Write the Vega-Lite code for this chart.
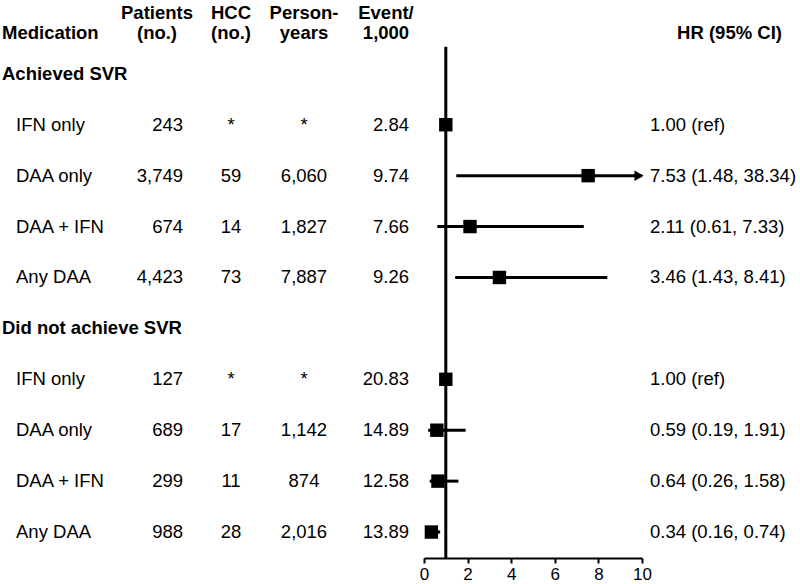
{
  "$schema": "https://vega.github.io/schema/vega-lite/v6.json",
  "padding": 0,
  "background": "white",
  "bounds": "flush",
  "spacing": 0,
  "datasets": {
    "rows": [
      {"row": 2, "med": "IFN only", "patients": 243, "hcc": "*", "py": "*", "event": 2.84, "hr": 1.0, "lower": null, "upper": null, "hrText": "1.00 (ref)"},
      {"row": 3, "med": "DAA only", "patients": 3749, "hcc": "59", "py": "6,060", "event": 9.74, "hr": 7.53, "lower": 1.48, "upper": 38.34, "hrText": "7.53 (1.48, 38.34)"},
      {"row": 4, "med": "DAA + IFN", "patients": 674, "hcc": "14", "py": "1,827", "event": 7.66, "hr": 2.11, "lower": 0.61, "upper": 7.33, "hrText": "2.11 (0.61, 7.33)"},
      {"row": 5, "med": "Any DAA", "patients": 4423, "hcc": "73", "py": "7,887", "event": 9.26, "hr": 3.46, "lower": 1.43, "upper": 8.41, "hrText": "3.46 (1.43, 8.41)"},
      {"row": 7, "med": "IFN only", "patients": 127, "hcc": "*", "py": "*", "event": 20.83, "hr": 1.0, "lower": null, "upper": null, "hrText": "1.00 (ref)"},
      {"row": 8, "med": "DAA only", "patients": 689, "hcc": "17", "py": "1,142", "event": 14.89, "hr": 0.59, "lower": 0.19, "upper": 1.91, "hrText": "0.59 (0.19, 1.91)"},
      {"row": 9, "med": "DAA + IFN", "patients": 299, "hcc": "11", "py": "874", "event": 12.58, "hr": 0.64, "lower": 0.26, "upper": 1.58, "hrText": "0.64 (0.26, 1.58)"},
      {"row": 10, "med": "Any DAA", "patients": 988, "hcc": "28", "py": "2,016", "event": 13.89, "hr": 0.34, "lower": 0.16, "upper": 0.74, "hrText": "0.34 (0.16, 0.74)"}
    ],
    "groups": [
      {"row": 1, "label": "Achieved SVR"},
      {"row": 6, "label": "Did not achieve SVR"}
    ],
    "one": [{"k": 1}]
  },
  "config": {
    "view": {"stroke": null},
    "text": {"font": "Liberation Sans", "fontSize": 18.5, "color": "black", "lineHeight": 20}
  },
  "hconcat": [
    {
      "width": 131, "height": 558,
      "layer": [
        {"data": {"name": "rows"}, "mark": {"type": "text", "align": "left", "x": 0, "dx": 16},
         "encoding": {"y": {"field": "row", "type": "quantitative", "scale": {"domain": [-0.45, 10.51], "reverse": true, "nice": false, "zero": false}, "axis": null}, "text": {"field": "med"}}},
        {"data": {"name": "groups"}, "mark": {"type": "text", "align": "left", "x": 0, "dx": 2, "fontWeight": "bold"},
         "encoding": {"y": {"field": "row", "type": "quantitative"}, "text": {"field": "label"}}},
        {"data": {"name": "one"}, "mark": {"type": "text", "align": "left", "x": 0, "dx": 2, "dy": 10, "fontWeight": "bold", "text": "Medication"},
         "encoding": {"y": {"datum": 0, "type": "quantitative"}}}
      ]
    },
    {
      "width": 52, "height": 558,
      "layer": [
        {"data": {"name": "rows"}, "mark": {"type": "text", "align": "right", "x": "width"},
         "encoding": {"y": {"field": "row", "type": "quantitative", "scale": {"domain": [-0.45, 10.51], "reverse": true, "nice": false, "zero": false}, "axis": null}, "text": {"field": "patients", "type": "quantitative", "format": ","}}},
        {"data": {"name": "one"}, "mark": {"type": "text", "align": "center", "dy": -10, "fontWeight": "bold", "text": ["Patients", "(no.)"]},
         "encoding": {"y": {"datum": 0, "type": "quantitative"}}}
      ]
    },
    {
      "width": 96, "height": 558,
      "layer": [
        {"data": {"name": "rows"}, "mark": {"type": "text", "align": "center"},
         "encoding": {"y": {"field": "row", "type": "quantitative", "scale": {"domain": [-0.45, 10.51], "reverse": true, "nice": false, "zero": false}, "axis": null}, "text": {"field": "hcc"}}},
        {"data": {"name": "one"}, "mark": {"type": "text", "align": "center", "dy": -10, "fontWeight": "bold", "text": ["HCC", "(no.)"]},
         "encoding": {"y": {"datum": 0, "type": "quantitative"}}}
      ]
    },
    {
      "width": 50, "height": 558,
      "layer": [
        {"data": {"name": "rows"}, "mark": {"type": "text", "align": "center"},
         "encoding": {"y": {"field": "row", "type": "quantitative", "scale": {"domain": [-0.45, 10.51], "reverse": true, "nice": false, "zero": false}, "axis": null}, "text": {"field": "py"}}},
        {"data": {"name": "one"}, "mark": {"type": "text", "align": "center", "dy": -10, "fontWeight": "bold", "text": ["Person-", "years"]},
         "encoding": {"y": {"datum": 0, "type": "quantitative"}}}
      ]
    },
    {
      "width": 95, "height": 558,
      "layer": [
        {"data": {"name": "rows"}, "mark": {"type": "text", "align": "right", "x": "width", "dx": -15},
         "encoding": {"y": {"field": "row", "type": "quantitative", "scale": {"domain": [-0.45, 10.51], "reverse": true, "nice": false, "zero": false}, "axis": null}, "text": {"field": "event", "type": "quantitative", "format": ".2f"}}},
        {"data": {"name": "one"}, "mark": {"type": "text", "align": "center", "dx": 9.5, "dy": -10, "fontWeight": "bold", "text": ["Event/", "1,000"]},
         "encoding": {"y": {"datum": 0, "type": "quantitative"}}}
      ]
    },
    {
      "width": 218, "height": 558,
      "layer": [
        {"data": {"name": "one"}, "mark": {"type": "rule", "strokeWidth": 3, "color": "black", "y2": "height"},
         "encoding": {"x": {"datum": 1, "type": "quantitative", "scale": {"domain": [0, 10], "clamp": true, "nice": false, "zero": false},
           "axis": {"values": [0, 2, 4, 6, 8, 10], "title": null, "grid": false, "domainColor": "black", "domainWidth": 2, "tickColor": "black", "tickWidth": 2, "tickSize": 5, "labelFontSize": 17, "labelColor": "black", "labelFont": "Liberation Sans", "labelPadding": 3, "labelFlush": false}},
           "y": {"datum": 0.47, "type": "quantitative", "scale": {"domain": [-0.45, 10.51], "reverse": true, "nice": false, "zero": false}, "axis": null}}},
        {"data": {"name": "rows"}, "transform": [{"filter": "datum.lower != null"}],
         "mark": {"type": "rule", "strokeWidth": 3, "color": "black"},
         "encoding": {"x": {"field": "lower", "type": "quantitative"}, "x2": {"field": "upper"}, "y": {"field": "row", "type": "quantitative"}}},
        {"data": {"name": "rows"},
         "mark": {"type": "point", "shape": "square", "filled": true, "size": 180, "color": "black", "opacity": 1},
         "encoding": {"x": {"field": "hr", "type": "quantitative"}, "y": {"field": "row", "type": "quantitative"}}},
        {"data": {"name": "rows"}, "transform": [{"filter": "datum.upper > 10"}],
         "mark": {"type": "point", "shape": "triangle-right", "filled": true, "size": 110, "color": "black", "opacity": 1, "xOffset": -3},
         "encoding": {"x": {"field": "upper", "type": "quantitative"}, "y": {"field": "row", "type": "quantitative"}}}
      ]
    },
    {
      "width": 158, "height": 558,
      "layer": [
        {"data": {"name": "rows"}, "mark": {"type": "text", "align": "left", "x": 0, "dx": 8},
         "encoding": {"y": {"field": "row", "type": "quantitative", "scale": {"domain": [-0.45, 10.51], "reverse": true, "nice": false, "zero": false}, "axis": null}, "text": {"field": "hrText"}}},
        {"data": {"name": "one"}, "mark": {"type": "text", "align": "center", "dx": 8.5, "dy": 10, "fontWeight": "bold", "text": "HR (95% CI)"},
         "encoding": {"y": {"datum": 0, "type": "quantitative"}}}
      ]
    }
  ]
}
